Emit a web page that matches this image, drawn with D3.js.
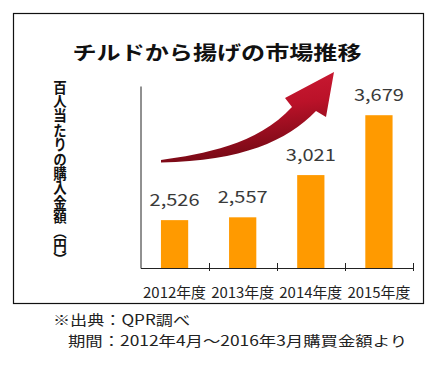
<!DOCTYPE html>
<html><head><meta charset="utf-8">
<script src="https://cdn.jsdelivr.net/npm/d3@7"></script>
<style>
html,body{margin:0;padding:0;background:#fff;}
svg{display:block;}
text{font-family:"Noto Sans CJK JP","DejaVu Sans",sans-serif;}
</style></head>
<body>
<svg id="chart" width="441" height="382"></svg>
<script>
const title = "チルドから揚げの市場推移";
const categories = ["2012年度","2013年度","2014年度","2015年度"];
const values = [2526, 2557, 3021, 3679];
const yDomain = [2000, 4000];
const yTitle = "百人当たりの購入金額（円）";
const footLines = ["※出典：QPR調べ","期間：2012年4月～2016年3月購買金額より"];

const svg = d3.select("#chart");
svg.append("rect").attr("width",441).attr("height",382).attr("fill","#fff");
// frame
svg.append("rect").attr("x",13.5).attr("y",13.5).attr("width",410).attr("height",290)
  .attr("fill","none").attr("stroke","#111").attr("stroke-width",1.2);

// title
svg.append("text").attr("x",217).attr("y",51).attr("text-anchor","middle")
  .attr("dominant-baseline","central").attr("font-size",19.5).attr("font-weight","bold")
  .attr("fill","#111").attr("textLength",289).attr("lengthAdjust","spacingAndGlyphs")
  .text(title);

const x = d3.scaleBand().domain(categories).range([140.5, 413]).paddingInner(0.6).paddingOuter(0.3);
const y = d3.scaleLinear().domain(yDomain).range([268, 86]);

// arrow
const defs = svg.append("defs");
const g = defs.append("linearGradient").attr("id","ag").attr("x1",0).attr("y1",0).attr("x2",0.25).attr("y2",1);
g.append("stop").attr("offset","0%").attr("stop-color","#d21d37");
g.append("stop").attr("offset","50%").attr("stop-color","#bb1229");
g.append("stop").attr("offset","100%").attr("stop-color","#760915");
svg.append("path")
  .attr("d","M161,160 C203,154 257,145 292,107 L285,98 L334,72 L326,117 L316,111 C287,141 242,161 161,162.5 Z")
  .attr("fill","url(#ag)");

// bars
svg.selectAll("rect.bar").data(values).join("rect").attr("class","bar")
  .attr("x",(d,i)=>x(categories[i])).attr("width",x.bandwidth())
  .attr("y",d=>y(d)).attr("height",d=>y(yDomain[0])-y(d)).attr("fill","#ff9a00");

// value labels
const fmt = d3.format(",");
svg.selectAll("text.val").data(values).join("text").attr("class","val")
  .attr("x",(d,i)=>x(categories[i])+x.bandwidth()/2).attr("y",d=>y(d)-22)
  .attr("text-anchor","middle").attr("dominant-baseline","central")
  .attr("font-size",17).attr("fill","#3a3a3a")
  .attr("textLength",50).attr("lengthAdjust","spacingAndGlyphs")
  .text(d=>fmt(d));

// y axis (line only)
svg.append("g").attr("transform","translate(140.5,0)")
  .call(d3.axisLeft(y).ticks(0).tickSizeOuter(0))
  .call(a=>a.select(".domain").attr("stroke","#222"));

// x axis
const xa = svg.append("g").attr("transform","translate(0,268)")
  .call(d3.axisBottom(x).tickSize(0).tickSizeOuter(0).tickPadding(0));
xa.select(".domain").attr("stroke","#222");
xa.selectAll(".tick text").attr("y",23).attr("dy",null)
  .attr("dominant-baseline","central").attr("font-size",14.5).attr("fill","#222")
  .attr("font-family","\"Noto Sans CJK JP\",sans-serif")
  .attr("textLength",63).attr("lengthAdjust","spacingAndGlyphs");
// boundary ticks
const step = x.step();
const bounds = categories.map(c => x(c) - (step - x.bandwidth())/2).concat([x.range()[1]]);
svg.selectAll("line.bt").data(bounds.slice(1)).join("line").attr("class","bt")
  .attr("x1",d=>Math.round(d)+0.5).attr("x2",d=>Math.round(d)+0.5).attr("y1",263).attr("y2",271)
  .attr("stroke","#222");

// y title vertical
svg.append("text").attr("x",60).attr("y",80)
  .style("writing-mode","vertical-rl")
  .attr("font-size",13.5).attr("font-weight","bold").attr("fill","#111")
  .attr("textLength",187).attr("lengthAdjust","spacingAndGlyphs")
  .text(yTitle);

// footer
svg.append("text").attr("x",53).attr("y",318.5).attr("dominant-baseline","central")
  .attr("font-size",14).attr("fill","#222").attr("textLength",137).attr("lengthAdjust","spacingAndGlyphs")
  .text(footLines[0]);
svg.append("text").attr("x",68).attr("y",340).attr("dominant-baseline","central")
  .attr("font-size",14).attr("fill","#222").attr("textLength",339).attr("lengthAdjust","spacingAndGlyphs")
  .text(footLines[1]);
</script>
</body></html>
